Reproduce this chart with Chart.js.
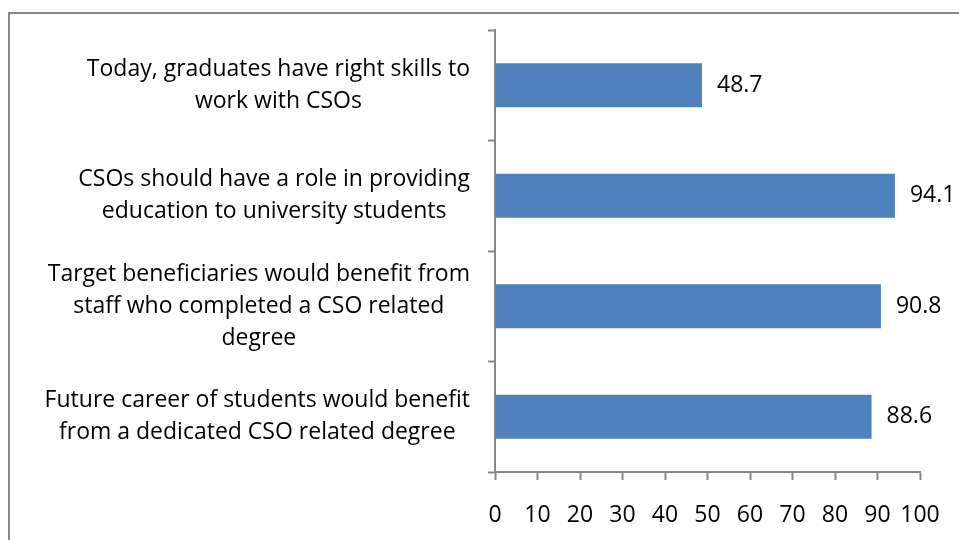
<!DOCTYPE html>
<html>
<head>
<meta charset="utf-8">
<title>CSO survey</title>
<script src="https://cdn.jsdelivr.net/npm/chart.js@4"></script>
<style>
  html, body { margin: 0; padding: 0; background: #fff; }
  #wrap { width: 959px; height: 540px; position: relative; }
</style>
</head>
<body>
<div id="wrap"><canvas id="cso" width="959" height="540"></canvas></div>
<script>
// --- chart data ---
const categories = [
  ['Today, graduates have right skills to', 'work with CSOs'],
  ['CSOs should have a role in providing', 'education to university students'],
  ['Target beneficiaries would benefit from', 'staff who completed a CSO related', 'degree'],
  ['Future career of students would benefit', 'from a dedicated CSO related degree']
];
const agreeShare = [48.7, 94.1, 90.8, 88.6];
const valueTicks = [0, 10, 20, 30, 40, 50, 60, 70, 80, 90, 100];

const FONT = '"Open Sans", sans-serif';
const FONT_SIZE = 23;
const AXIS_GREY = '#878787';
const BAR_BLUE = '#4F81BD';

// grey frame around the whole chart
const framePlugin = {
  id: 'frame',
  beforeDraw(chart) {
    const ctx = chart.ctx;
    ctx.save();
    ctx.strokeStyle = '#878787';
    ctx.lineWidth = 2;
    ctx.strokeRect(9, 13, chart.width + 20, chart.height + 20);
    ctx.restore();
  }
};

// category labels: each block right-aligned, lines centred inside the block
const categoryLabelPlugin = {
  id: 'categoryLabels',
  afterDraw(chart) {
    const ctx = chart.ctx;
    const yScale = chart.scales.y;
    const rightEdge = yScale.right - 25;
    const lineHeight = 32;
    ctx.save();
    ctx.font = FONT_SIZE + 'px ' + FONT;
    ctx.fillStyle = '#000';
    ctx.textAlign = 'center';
    ctx.textBaseline = 'middle';
    categories.forEach((lines, i) => {
      const widest = Math.max(...lines.map(l => ctx.measureText(l).width));
      const cx = rightEdge - widest / 2;
      const cy = yScale.getPixelForValue(i);
      const top = cy - (lines.length - 1) * lineHeight / 2;
      lines.forEach((l, j) => ctx.fillText(l, cx, top + j * lineHeight));
    });
    ctx.restore();
  }
};

// value printed to the right of each bar
const valueLabelPlugin = {
  id: 'valueLabels',
  afterDatasetsDraw(chart) {
    const ctx = chart.ctx;
    const meta = chart.getDatasetMeta(0);
    ctx.save();
    ctx.font = FONT_SIZE + 'px ' + FONT;
    ctx.fillStyle = '#000';
    ctx.textAlign = 'left';
    ctx.textBaseline = 'middle';
    meta.data.forEach((bar, i) => {
      ctx.fillText(agreeShare[i].toFixed(1), bar.x + 15, bar.y);
    });
    ctx.restore();
  }
};

new Chart(document.getElementById('cso'), {
  type: 'bar',
  data: {
    labels: categories.map(c => c.join(' ')),
    datasets: [{
      data: agreeShare,
      backgroundColor: BAR_BLUE,
      borderWidth: 0,
      barPercentage: 0.4,
      categoryPercentage: 1
    }]
  },
  options: {
    indexAxis: 'y',
    responsive: false,
    animation: false,
    layout: { padding: { top: 30, right: 39, left: 0, bottom: 0 } },
    plugins: {
      legend: { display: false },
      tooltip: { enabled: false }
    },
    scales: {
      x: {
        min: 0,
        max: 100,
        afterBuildTicks: scale => { scale.ticks = valueTicks.map(v => ({ value: v })); },
        afterFit: scale => {
          scale.height = 68;
          // keep the plot width fixed, the end labels may overhang
          scale.paddingLeft = 0;
          scale.paddingRight = 0;
        },
        grid: {
          drawOnChartArea: false,
          drawTicks: true,
          tickLength: 8,
          tickColor: AXIS_GREY,
          tickWidth: 2
        },
        border: { color: AXIS_GREY, width: 2 },
        ticks: {
          color: '#000',
          font: { family: FONT, size: FONT_SIZE },
          padding: 22,
          maxRotation: 0,
          autoSkip: false
        }
      },
      y: {
        afterFit: scale => { scale.width = 495; },
        grid: {
          offset: true,
          drawOnChartArea: false,
          drawTicks: true,
          tickLength: 7,
          tickColor: AXIS_GREY,
          tickWidth: 2
        },
        border: { color: AXIS_GREY, width: 2 },
        ticks: { display: false }
      }
    }
  },
  plugins: [framePlugin, categoryLabelPlugin, valueLabelPlugin]
});
</script>
</body>
</html>
